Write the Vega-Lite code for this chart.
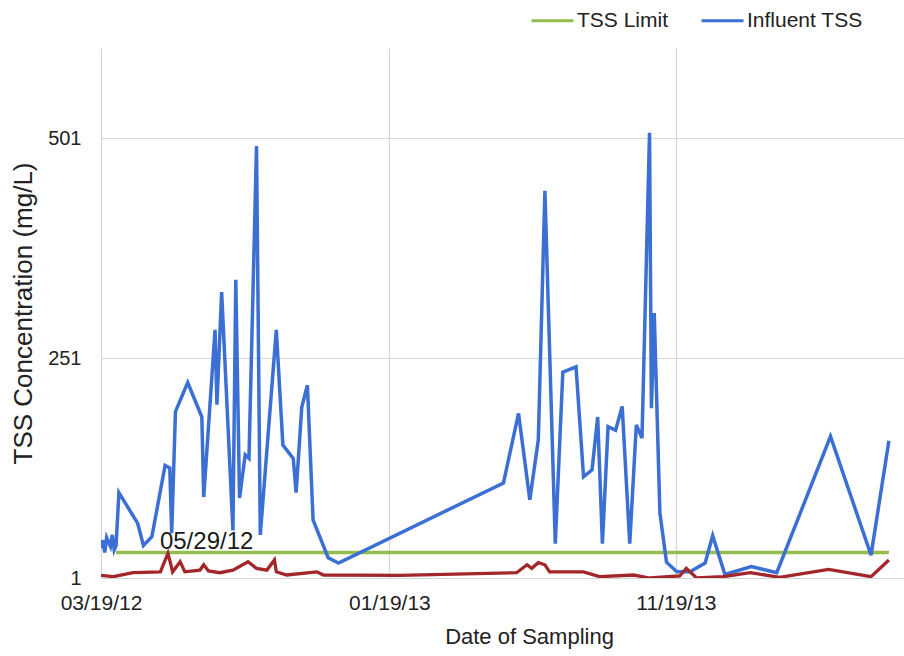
{
  "$schema": "https://vega.github.io/schema/vega-lite/v6.json",
  "width": 803,
  "height": 530,
  "autosize": "none",
  "padding": {"left": 101, "top": 48, "right": 0, "bottom": 78},
  "background": "white",
  "config": {
    "view": {"stroke": null},
    "font": "Liberation Sans",
    "axis": {"domain": false, "ticks": false, "grid": true, "gridColor": "#d6d6d6", "gridWidth": 1.2, "labelColor": "#222222", "titleColor": "#222222", "titleFontWeight": "normal", "labelFont": "Liberation Sans", "titleFont": "Liberation Sans"},
    "legend": {"labelFont": "Liberation Sans"}
  },
  "data": {
    "values": [
      {"series": "TSS Limit", "date": "2012-04-04", "value": 30},
      {"series": "TSS Limit", "date": "2014-07-03", "value": 30},
      {"series": "Influent TSS", "date": "2012-03-19", "value": 35},
      {"series": "Influent TSS", "date": "2012-03-21", "value": 44},
      {"series": "Influent TSS", "date": "2012-03-23", "value": 30},
      {"series": "Influent TSS", "date": "2012-03-25", "value": 47},
      {"series": "Influent TSS", "date": "2012-03-29", "value": 37},
      {"series": "Influent TSS", "date": "2012-03-31", "value": 50},
      {"series": "Influent TSS", "date": "2012-04-02", "value": 33},
      {"series": "Influent TSS", "date": "2012-04-04", "value": 38},
      {"series": "Influent TSS", "date": "2012-04-07", "value": 98},
      {"series": "Influent TSS", "date": "2012-04-27", "value": 63},
      {"series": "Influent TSS", "date": "2012-05-03", "value": 38},
      {"series": "Influent TSS", "date": "2012-05-12", "value": 48},
      {"series": "Influent TSS", "date": "2012-05-26", "value": 129},
      {"series": "Influent TSS", "date": "2012-05-31", "value": 126},
      {"series": "Influent TSS", "date": "2012-06-02", "value": 52},
      {"series": "Influent TSS", "date": "2012-06-06", "value": 190},
      {"series": "Influent TSS", "date": "2012-06-19", "value": 223},
      {"series": "Influent TSS", "date": "2012-07-04", "value": 184},
      {"series": "Influent TSS", "date": "2012-07-06", "value": 93},
      {"series": "Influent TSS", "date": "2012-07-18", "value": 283},
      {"series": "Influent TSS", "date": "2012-07-20", "value": 198},
      {"series": "Influent TSS", "date": "2012-07-25", "value": 326},
      {"series": "Influent TSS", "date": "2012-08-06", "value": 55},
      {"series": "Influent TSS", "date": "2012-08-09", "value": 340},
      {"series": "Influent TSS", "date": "2012-08-13", "value": 92},
      {"series": "Influent TSS", "date": "2012-08-19", "value": 141},
      {"series": "Influent TSS", "date": "2012-08-23", "value": 137},
      {"series": "Influent TSS", "date": "2012-08-31", "value": 492},
      {"series": "Influent TSS", "date": "2012-09-04", "value": 50},
      {"series": "Influent TSS", "date": "2012-09-21", "value": 283},
      {"series": "Influent TSS", "date": "2012-09-28", "value": 152},
      {"series": "Influent TSS", "date": "2012-10-09", "value": 137},
      {"series": "Influent TSS", "date": "2012-10-12", "value": 98},
      {"series": "Influent TSS", "date": "2012-10-18", "value": 195},
      {"series": "Influent TSS", "date": "2012-10-24", "value": 220},
      {"series": "Influent TSS", "date": "2012-10-30", "value": 67},
      {"series": "Influent TSS", "date": "2012-11-15", "value": 24},
      {"series": "Influent TSS", "date": "2012-11-26", "value": 18},
      {"series": "Influent TSS", "date": "2013-05-20", "value": 109},
      {"series": "Influent TSS", "date": "2013-06-05", "value": 188},
      {"series": "Influent TSS", "date": "2013-06-17", "value": 90},
      {"series": "Influent TSS", "date": "2013-06-26", "value": 158},
      {"series": "Influent TSS", "date": "2013-07-03", "value": 441},
      {"series": "Influent TSS", "date": "2013-07-14", "value": 40},
      {"series": "Influent TSS", "date": "2013-07-22", "value": 235},
      {"series": "Influent TSS", "date": "2013-08-05", "value": 241},
      {"series": "Influent TSS", "date": "2013-08-13", "value": 116},
      {"series": "Influent TSS", "date": "2013-08-22", "value": 124},
      {"series": "Influent TSS", "date": "2013-08-28", "value": 184},
      {"series": "Influent TSS", "date": "2013-09-02", "value": 40},
      {"series": "Influent TSS", "date": "2013-09-08", "value": 173},
      {"series": "Influent TSS", "date": "2013-09-16", "value": 169},
      {"series": "Influent TSS", "date": "2013-09-23", "value": 196},
      {"series": "Influent TSS", "date": "2013-10-01", "value": 40},
      {"series": "Influent TSS", "date": "2013-10-08", "value": 175},
      {"series": "Influent TSS", "date": "2013-10-14", "value": 160},
      {"series": "Influent TSS", "date": "2013-10-22", "value": 507},
      {"series": "Influent TSS", "date": "2013-10-24", "value": 194},
      {"series": "Influent TSS", "date": "2013-10-27", "value": 302},
      {"series": "Influent TSS", "date": "2013-11-02", "value": 75},
      {"series": "Influent TSS", "date": "2013-11-09", "value": 19},
      {"series": "Influent TSS", "date": "2013-11-20", "value": 8},
      {"series": "Influent TSS", "date": "2013-12-04", "value": 8},
      {"series": "Influent TSS", "date": "2013-12-20", "value": 18},
      {"series": "Influent TSS", "date": "2013-12-28", "value": 49},
      {"series": "Influent TSS", "date": "2014-01-10", "value": 5},
      {"series": "Influent TSS", "date": "2014-02-07", "value": 14},
      {"series": "Influent TSS", "date": "2014-03-06", "value": 7},
      {"series": "Influent TSS", "date": "2014-05-02", "value": 162},
      {"series": "Influent TSS", "date": "2014-06-14", "value": 27},
      {"series": "Influent TSS", "date": "2014-07-03", "value": 157},
      {"series": "Effluent TSS", "date": "2012-03-19", "value": 4},
      {"series": "Effluent TSS", "date": "2012-04-01", "value": 2.5},
      {"series": "Effluent TSS", "date": "2012-04-22", "value": 7},
      {"series": "Effluent TSS", "date": "2012-05-21", "value": 8},
      {"series": "Effluent TSS", "date": "2012-05-29", "value": 29, "label": "05/29/12"},
      {"series": "Effluent TSS", "date": "2012-05-31", "value": 21},
      {"series": "Effluent TSS", "date": "2012-06-03", "value": 8},
      {"series": "Effluent TSS", "date": "2012-06-11", "value": 19.5},
      {"series": "Effluent TSS", "date": "2012-06-16", "value": 8},
      {"series": "Effluent TSS", "date": "2012-07-02", "value": 10},
      {"series": "Effluent TSS", "date": "2012-07-06", "value": 16},
      {"series": "Effluent TSS", "date": "2012-07-11", "value": 9},
      {"series": "Effluent TSS", "date": "2012-07-23", "value": 7},
      {"series": "Effluent TSS", "date": "2012-08-06", "value": 10},
      {"series": "Effluent TSS", "date": "2012-08-22", "value": 19.5},
      {"series": "Effluent TSS", "date": "2012-08-31", "value": 12},
      {"series": "Effluent TSS", "date": "2012-09-11", "value": 10},
      {"series": "Effluent TSS", "date": "2012-09-19", "value": 21.5},
      {"series": "Effluent TSS", "date": "2012-09-21", "value": 8},
      {"series": "Effluent TSS", "date": "2012-10-02", "value": 4.4},
      {"series": "Effluent TSS", "date": "2012-11-03", "value": 8},
      {"series": "Effluent TSS", "date": "2012-11-10", "value": 4.4},
      {"series": "Effluent TSS", "date": "2013-01-30", "value": 4},
      {"series": "Effluent TSS", "date": "2013-06-03", "value": 7},
      {"series": "Effluent TSS", "date": "2013-06-14", "value": 16},
      {"series": "Effluent TSS", "date": "2013-06-19", "value": 12},
      {"series": "Effluent TSS", "date": "2013-06-26", "value": 18.4},
      {"series": "Effluent TSS", "date": "2013-07-03", "value": 16},
      {"series": "Effluent TSS", "date": "2013-07-08", "value": 8},
      {"series": "Effluent TSS", "date": "2013-08-13", "value": 8},
      {"series": "Effluent TSS", "date": "2013-08-30", "value": 2.5},
      {"series": "Effluent TSS", "date": "2013-10-05", "value": 4.4},
      {"series": "Effluent TSS", "date": "2013-10-22", "value": 1},
      {"series": "Effluent TSS", "date": "2013-11-23", "value": 3.3},
      {"series": "Effluent TSS", "date": "2013-11-30", "value": 12},
      {"series": "Effluent TSS", "date": "2013-12-11", "value": 1},
      {"series": "Effluent TSS", "date": "2014-01-08", "value": 2.5},
      {"series": "Effluent TSS", "date": "2014-02-06", "value": 7},
      {"series": "Effluent TSS", "date": "2014-03-09", "value": 1.8},
      {"series": "Effluent TSS", "date": "2014-04-30", "value": 10.7},
      {"series": "Effluent TSS", "date": "2014-06-14", "value": 2.5},
      {"series": "Effluent TSS", "date": "2014-07-03", "value": 21.5}
    ]
  },
  "encoding": {
    "x": {
      "field": "date", "type": "temporal",
      "scale": {"type": "utc", "domain": [{"year": 2012, "month": 3, "date": 19, "utc": true}, {"year": 2014, "month": 7, "date": 19, "utc": true}], "nice": false},
      "axis": {
        "values": [{"year": 2012, "month": 3, "date": 19, "utc": true}, {"year": 2013, "month": 1, "date": 19, "utc": true}, {"year": 2013, "month": 11, "date": 19, "utc": true}],
        "labelExpr": "utcFormat(datum.value, '%m/%d/%y')",
        "labelFlush": false, "labelOverlap": false,
        "labelFontSize": 21, "labelPadding": 14,
        "title": "Date of Sampling", "titleFontSize": 22, "titlePadding": 13, "titleX": 428
      }
    },
    "y": {
      "field": "value", "type": "quantitative",
      "scale": {"domain": [1, 603.3], "nice": false, "zero": false},
      "axis": {
        "values": [1, 251, 501],
        "labelFontSize": 20, "labelPadding": 20,
        "title": "TSS Concentration (mg/L)", "titleFontSize": 26, "titlePadding": 11
      }
    }
  },
  "layer": [
    {
      "transform": [{"filter": "datum.series !== 'Effluent TSS'"}],
      "mark": {"type": "line", "strokeWidth": 3.5, "clip": true},
      "encoding": {
        "color": {
          "field": "series", "type": "nominal",
          "scale": {"domain": ["TSS Limit", "Influent TSS"], "range": ["#94bc4f", "#3b6fd4"]},
          "legend": {
            "title": null, "orient": "none", "direction": "horizontal",
            "legendX": 429, "legendY": -50,
            "symbolType": "stroke", "symbolSize": 1764, "symbolStrokeWidth": 3,
            "labelFontSize": 21, "labelColor": "#222222", "labelOffset": 2, "columnPadding": 26
          }
        }
      }
    },
    {
      "transform": [{"filter": "datum.series === 'Effluent TSS'"}],
      "mark": {"type": "line", "strokeWidth": 3.3, "color": "#a3262a", "clip": true},
      "encoding": {}
    },
    {
      "transform": [{"filter": "isValid(datum.label)"}],
      "mark": {"type": "text", "align": "left", "baseline": "middle", "dx": -8, "dy": -11, "fontSize": 24, "color": "#1a1a1a"},
      "encoding": {"text": {"field": "label"}}
    }
  ]
}
